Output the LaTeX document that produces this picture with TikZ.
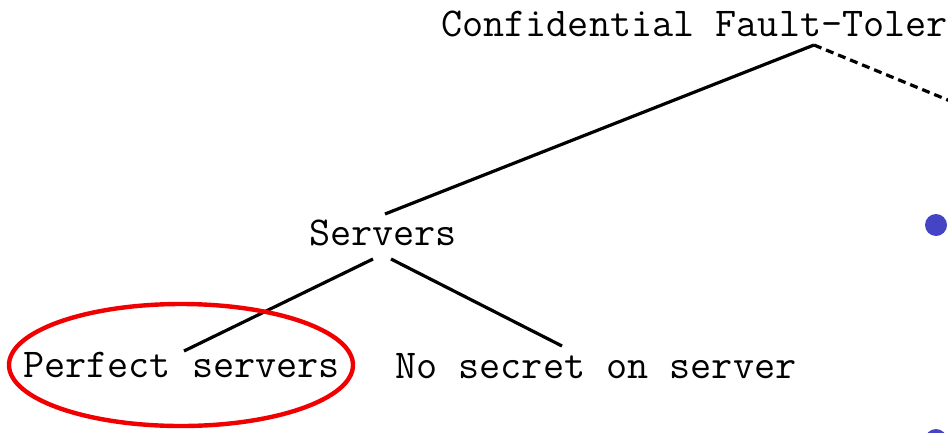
\documentclass[tikz,border=0pt]{standalone}
\usepackage{fontspec}
\definecolor{bulletblue}{RGB}{68,68,196}
\definecolor{markred}{RGB}{240,0,0}
\tikzset{
  lbl/.style={font=\ttfamily\fontsize{41}{45}\selectfont, inner sep=0pt, anchor=base west},
  edge/.style={line width=3.2pt, black},
  optedge/.style={line width=3.2pt, black, dash pattern=on 8pt off 5pt},
  dot/.style={circle, fill=bulletblue, inner sep=0pt, minimum size=22pt},
}
\begin{document}
\begin{tikzpicture}[x=1pt,y=-1pt]
  \useasboundingbox (0,0) rectangle (948,432);

  % labels of the tree
  \node[lbl] (title)   at (441,36)  {Confidential Fault-Toler};
  \node[lbl] (servers) at (309,245) {Servers};
  \node[lbl] (perfect) at (23,377)  {Perfect servers};
  \node[lbl] (nosecret) at (395,378) {No secret on server};

  % connector ends
  \coordinate (root)     at (814,45);
  \coordinate (rootOut)  at (960,105);
  \coordinate (srvTop)   at (385,214);
  \coordinate (srvLeft)  at (373,259);
  \coordinate (srvRight) at (391,259);
  \coordinate (perfTop)  at (184,351);
  \coordinate (noTop)    at (562,346);

  % branches
  \draw[edge] (root) -- (srvTop);
  \draw[optedge] (root) -- (rootOut);
  \draw[edge] (srvLeft) -- (perfTop);
  \draw[edge] (srvRight) -- (noTop);

  % highlight around the chosen leaf
  \draw[markred, line width=4.4pt] (181,365) ellipse [x radius=172, y radius=61];

  % bullets of the side list
  \node[dot] (b1) at (936,225) {};
  \node[dot] (b2) at (936,440) {};
\end{tikzpicture}
\end{document}
